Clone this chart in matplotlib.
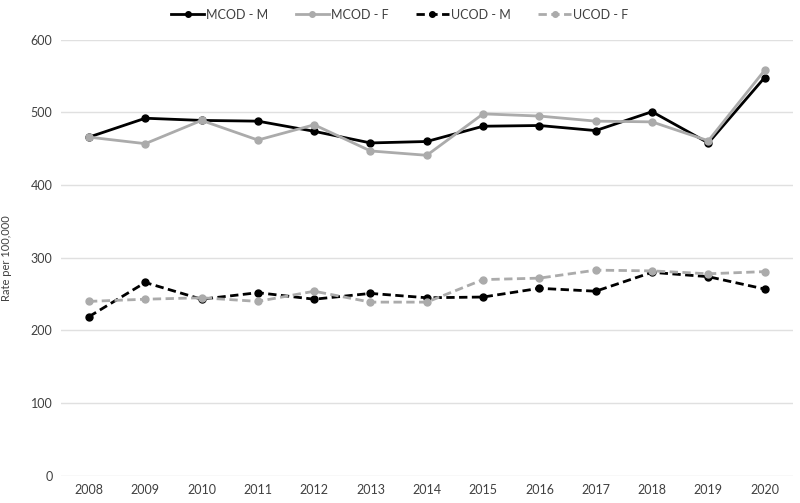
import matplotlib
matplotlib.use("Agg")
import matplotlib.pyplot as plt

plt.rcParams["font.family"] = ["Lato", "DejaVu Sans"]

years = list(range(2008, 2021))
mcod_m = [466, 492, 489, 488, 474, 458, 460, 481, 482, 475, 501, 458, 548]
mcod_f = [466, 457, 489, 462, 483, 447, 441, 498, 495, 488, 487, 461, 558]
ucod_m = [219, 266, 243, 252, 243, 251, 245, 246, 258, 254, 280, 274, 257]
ucod_f = [240, 243, 245, 240, 254, 239, 239, 270, 272, 283, 282, 278, 281]

BLACK = "#000000"
GREY = "#ababab"
TEXT = "#404040"

fig = plt.figure(figsize=(8.0, 5.03), dpi=100)
ax = fig.add_axes([0.076, 0.054, 0.915, 0.867])

x = range(len(years))
style = dict(linewidth=2.0, marker="o", markersize=5)
dash = (0, (3, 1.6))
ax.plot(x, mcod_m, color=BLACK, label="MCOD - M", **style)
ax.plot(x, mcod_f, color=GREY, label="MCOD - F", **style)
ax.plot(x, ucod_m, color=BLACK, linestyle=dash, label="UCOD - M", **style)
ax.plot(x, ucod_f, color=GREY, linestyle=dash, label="UCOD - F", **style)

ax.set_xlim(-0.5, len(years) - 0.5)
ax.set_ylim(0, 600)
ax.set_yticks(range(0, 601, 100))
ax.set_xticks(list(x))
ax.set_xticklabels([str(y) for y in years])
ax.grid(axis="y", color="#e0e0e0", linewidth=1)
ax.set_axisbelow(True)
for s in ax.spines.values():
    s.set_visible(False)
ax.tick_params(length=0, labelsize=9, colors=TEXT, pad=6)
ax.set_ylabel("Rate per 100,000", fontsize=8, color=TEXT)
ax.yaxis.set_label_coords(-0.067, 0.5)

fig.legend(loc="upper center", bbox_to_anchor=(0.5, 1.005), ncol=4, frameon=False,
           fontsize=9, handlelength=2.6, columnspacing=2.2, labelcolor=TEXT,
           handletextpad=0.2, markerscale=0.8)

fig.savefig("out.png", dpi=100)
